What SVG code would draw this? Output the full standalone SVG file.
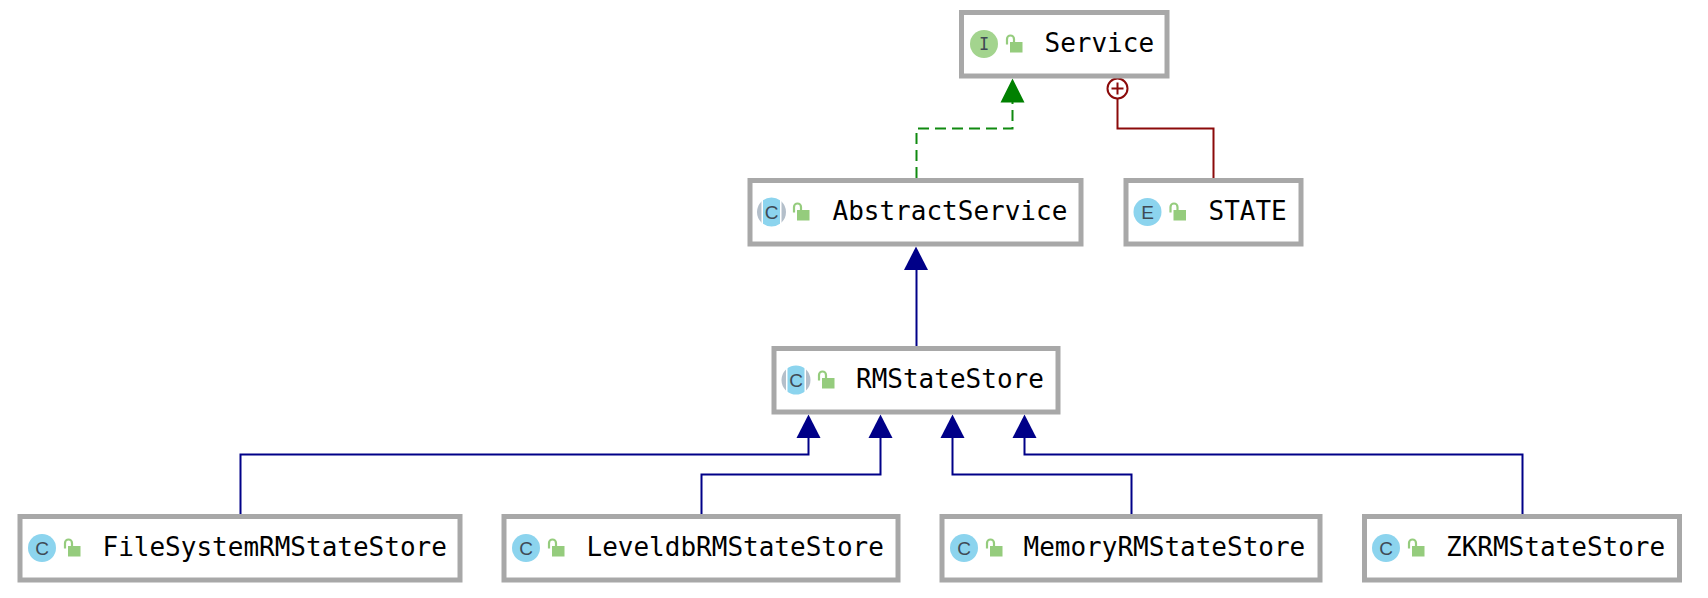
<svg xmlns="http://www.w3.org/2000/svg" width="1708" height="598" viewBox="0 0 1708 598">
<style>
.box{fill:#fff;stroke:#a8a8a8;stroke-width:5}
.t{font-family:"DejaVu Sans Mono","Liberation Mono",monospace;font-size:26px;fill:#000}
.k{font-family:"Liberation Sans","DejaVu Sans",sans-serif;font-size:19px;fill:#3f4a55;text-anchor:middle}
.m{font-family:"DejaVu Sans Mono","Liberation Mono",monospace;font-size:17px;fill:#3f4a55;text-anchor:middle}
.b{fill:none;stroke:#000088;stroke-width:2}
.g{fill:none;stroke:#108a10;stroke-width:2;stroke-dasharray:11 6}
.r{fill:none;stroke:#8b0a0a;stroke-width:2}
.c{fill:#8cd4ee}
.i{fill:#a3d48e}
.a{fill:#b4bfca}
</style>
<defs>
<g id="lock"><rect x="0" y="0" width="12.500" height="10.500" fill="#95cc7d"/><path d="M-3 2.500V-3A3.500 3.500 0 0 1 4 -3V0" fill="none" stroke="#95cc7d" stroke-width="2.200"/></g>
<clipPath id="mid"><rect x="-8.500" y="-15" width="17" height="30"/></clipPath>
<g id="abs"><circle r="14.500" class="a"/><rect x="-10" y="-15" width="20" height="30" fill="#fff"/><circle r="14.500" class="c" clip-path="url(#mid)"/></g>
</defs>
<g id="connectors">
<path class="g" d="M916.500 178V128.500H1012.500V98"/>
<polygon points="1012.500,78.500 1000.500,102.500 1024.500,102.500" fill="#008000"/>
<path class="r" d="M1213.500 178V128.500H1117.500V98"/>
<circle cx="1117.500" cy="88.500" r="10" fill="#fff" stroke="#8b0a0a" stroke-width="2"/>
<path class="r" d="M1111.500 88.500H1123.500M1117.500 82.500V94.500"/>
<path class="b" d="M916.500 346V266"/>
<polygon points="916,246.500 904,270 928,270" fill="#000088"/>
<path class="b" d="M240.500 514V454.500H808.500V435"/>
<polygon points="808.500,414.500 796.500,438 820.500,438" fill="#000088"/>
<path class="b" d="M701.500 514V474.500H880.500V435"/>
<polygon points="880.500,414.500 868.500,438 892.500,438" fill="#000088"/>
<path class="b" d="M1131.500 514V474.500H952.500V435"/>
<polygon points="952.500,414.500 940.500,438 964.500,438" fill="#000088"/>
<path class="b" d="M1522.500 514V454.500H1024.500V435"/>
<polygon points="1024.500,414.500 1012.500,438 1036.500,438" fill="#000088"/>
</g>
<g id="node-service">
<rect class="box" x="961.500" y="12.500" width="205.500" height="63.500"/>
<circle class="i" cx="984" cy="44" r="14"/><text class="m" x="984" y="50">I</text>
<use href="#lock" x="1010" y="42"/>
<text class="t" x="1044.500" y="52">Service</text>
</g>
<g id="node-abstractservice">
<rect class="box" x="750" y="180.500" width="331" height="63.500"/>
<use href="#abs" x="771.500" y="212"/><text class="k" x="771.500" y="218.500">C</text>
<use href="#lock" x="797" y="210"/>
<text class="t" x="832.500" y="220">AbstractService</text>
</g>
<g id="node-state">
<rect class="box" x="1126" y="180.500" width="175" height="63.500"/>
<circle class="c" cx="1147.500" cy="212" r="14"/><text class="k" x="1147.500" y="218.500">E</text>
<use href="#lock" x="1173.500" y="210"/>
<text class="t" x="1208.500" y="220">STATE</text>
</g>
<g id="node-rmstatestore">
<rect class="box" x="774" y="348.500" width="284" height="63.500"/>
<use href="#abs" x="796" y="380"/><text class="k" x="796" y="386.500">C</text>
<use href="#lock" x="822" y="378"/>
<text class="t" x="856" y="388">RMStateStore</text>
</g>
<g id="node-filesystem">
<rect class="box" x="20" y="516.500" width="440" height="63.500"/>
<circle class="c" cx="42" cy="548" r="14"/><text class="k" x="42" y="554.500">C</text>
<use href="#lock" x="68" y="546"/>
<text class="t" x="102.500" y="556">FileSystemRMStateStore</text>
</g>
<g id="node-leveldb">
<rect class="box" x="504" y="516.500" width="394" height="63.500"/>
<circle class="c" cx="526" cy="548" r="14"/><text class="k" x="526" y="554.500">C</text>
<use href="#lock" x="552" y="546"/>
<text class="t" x="586.500" y="556">LeveldbRMStateStore</text>
</g>
<g id="node-memory">
<rect class="box" x="942" y="516.500" width="378" height="63.500"/>
<circle class="c" cx="964" cy="548" r="14"/><text class="k" x="964" y="554.500">C</text>
<use href="#lock" x="990" y="546"/>
<text class="t" x="1023.500" y="556">MemoryRMStateStore</text>
</g>
<g id="node-zk">
<rect class="box" x="1364.500" y="516.500" width="315" height="63.500"/>
<circle class="c" cx="1386" cy="548" r="14"/><text class="k" x="1386" y="554.500">C</text>
<use href="#lock" x="1412" y="546"/>
<text class="t" x="1446" y="556">ZKRMStateStore</text>
</g>
</svg>
